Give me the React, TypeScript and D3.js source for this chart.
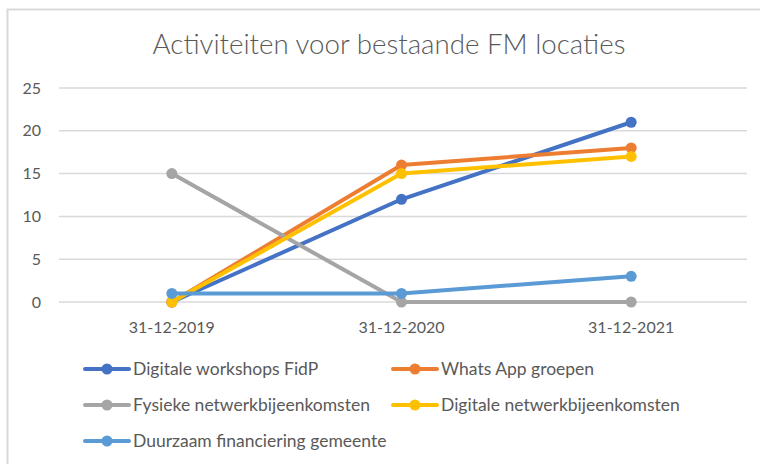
import React from "react";
import * as d3 from "d3";

const categories = ["31-12-2019", "31-12-2020", "31-12-2021"];
const seriesNames = [
  "Digitale workshops FidP",
  "Whats App groepen",
  "Fysieke netwerkbijeenkomsten",
  "Digitale netwerkbijeenkomsten",
  "Duurzaam financiering gemeente",
];
const digitaleWorkshops = [0, 12, 21];
const whatsApp = [0, 16, 18];
const fysieke = [15, 0, 0];
const digitaleNetwerk = [0, 15, 17];
const duurzaam = [1, 1, 3];
const colors = ["#4472C4", "#ED7D31", "#A5A5A5", "#FFC000", "#5B9BD5"];
const yTicks = [0, 5, 10, 15, 20, 25];
const title = "Activiteiten voor bestaande FM locaties";

const allValues = [digitaleWorkshops, whatsApp, fysieke, digitaleNetwerk, duurzaam];

const W = 760;
const H = 464;
const FONT = "Lato, 'Open Sans', sans-serif";

export default function App() {
  const x = d3.scalePoint<string>().domain(categories).range([57, 746]).padding(0.5);
  const y = d3.scaleLinear().domain([0, 25]).range([302, 88]);
  const line = d3
    .line<number>()
    .x((_, i) => x(categories[i]) as number)
    .y((d) => y(d));

  const legendPos = [
    { x: 85, y: 369 },
    { x: 393, y: 369 },
    { x: 85, y: 405 },
    { x: 393, y: 405 },
    { x: 85, y: 441 },
  ];

  return (
    <svg
      width={W}
      height={H}
      style={{ position: "absolute", left: 0, top: 0, background: "#fff" }}
      fontFamily={FONT}
    >
      <rect x={0} y={0} width={W} height={H} fill="#fff" />
      <rect x={7.5} y={9.5} width={W + 20} height={H + 20} fill="none" stroke="#D9D9D9" strokeWidth={2} />
      <text x={389} y={54} textAnchor="middle" fontSize={27.7} fill="#595959" fontWeight={300}>
        {title}
      </text>
      {yTicks.map((t) => (
        <g key={t}>
          <line x1={59} x2={747} y1={y(t)} y2={y(t)} stroke="#D9D9D9" strokeWidth={1.5} />
          <text x={41} y={y(t) + 5.5} textAnchor="end" fontSize={16} fill="#595959">
            {t}
          </text>
        </g>
      ))}
      {categories.map((c) => (
        <text key={c} x={x(c)} y={333} textAnchor="middle" fontSize={16} fill="#595959">
          {c}
        </text>
      ))}
      {allValues.map((vals, si) => (
        <g key={si}>
          <path d={line(vals) || ""} fill="none" stroke={colors[si]} strokeWidth={4} strokeLinejoin="round" strokeLinecap="round" />
          {vals.map((v, i) => (
            <circle key={i} cx={x(categories[i])} cy={y(v)} r={5.5} fill={colors[si]} />
          ))}
        </g>
      ))}
      {seriesNames.map((n, si) => {
        const p = legendPos[si];
        return (
          <g key={n}>
            <line x1={p.x} x2={p.x + 44} y1={p.y} y2={p.y} stroke={colors[si]} strokeWidth={4} strokeLinecap="round" />
            <circle cx={p.x + 22} cy={p.y} r={5.5} fill={colors[si]} />
            <text x={p.x + 48} y={p.y + 6} fontSize={17.5} fill="#595959">
              {n}
            </text>
          </g>
        );
      })}
    </svg>
  );
}
